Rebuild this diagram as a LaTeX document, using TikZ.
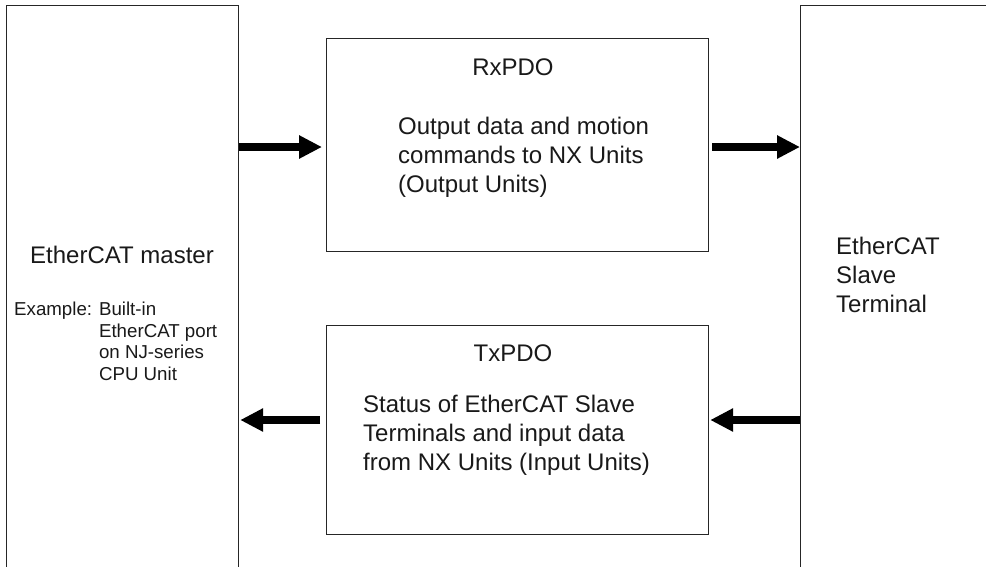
\documentclass[tikz,border=0pt]{standalone}
\usepackage{fontspec}
\setmainfont{Liberation Sans}
\usetikzlibrary{arrows.meta}

\begin{document}
\begin{tikzpicture}[
        x=1pt, y=-1pt,
        >={Triangle[length=23pt,width=22pt]},
        box/.style={draw=black!85, line width=1.2pt, rectangle, inner sep=0pt, anchor=north west},
        bigtext/.style={text=black!90, inner sep=0pt, font=\fontsize{24}{29}\selectfont},
        smalltext/.style={text=black!90, inner sep=0pt, font=\fontsize{18.7}{21.7}\selectfont},
        pdoarrow/.style={->, line width=7.5pt, black}
    ]
        \clip (0,0) rectangle (986,566);

        % boxes
        \node (master) [box, minimum width=232pt, minimum height=600pt] at (6,5) {};
        \node (slave) [box, minimum width=250pt, minimum height=600pt] at (800,5) {};
        \node (rxpdo) [box, minimum width=382pt, minimum height=213pt] at (326,38) {};
        \node (txpdo) [box, minimum width=382pt, minimum height=209pt] at (326,325) {};

        % texts
        \node (mastername) [bigtext, anchor=base] at (122,263) {EtherCAT master};
        \node (masterex) [smalltext, anchor=north west] at (14,300) {%
            \begin{tabular}{@{}l@{ }l@{}}
                Example: & Built-in\\
                         & EtherCAT port\\
                         & on NJ-series\\
                         & CPU Unit
            \end{tabular}};
        \node (rxtitle) [bigtext, anchor=base] at (513,75) {RxPDO};
        \node (rxtext) [bigtext, anchor=north west, align=left] at (398,117) {Output data and motion\\commands to NX Units\\(Output Units)};
        \node (txtitle) [bigtext, anchor=base] at (513,361) {TxPDO};
        \node (txtext) [bigtext, anchor=north west, align=left] at (363,395) {Status of EtherCAT Slave\\Terminals and input data\\from NX Units (Input Units)};
        \node (slavename) [bigtext, anchor=north west, align=left] at (836,237) {EtherCAT\\Slave\\Terminal};

        % arrows
        \coordinate (rxrow) at (0,147);
        \coordinate (txrow) at (0,420);
        \draw[pdoarrow, shorten >=4pt] (master.east |- rxrow) -- (rxpdo.west |- rxrow);
        \draw[pdoarrow, shorten <=3pt] (rxpdo.east |- rxrow) -- (slave.west |- rxrow);
        \draw[pdoarrow, shorten <=6pt, shorten >=1pt] (txpdo.west |- txrow) -- (master.east |- txrow);
        \draw[pdoarrow, shorten >=1pt] (slave.west |- txrow) -- (txpdo.east |- txrow);
\end{tikzpicture}
\end{document}
